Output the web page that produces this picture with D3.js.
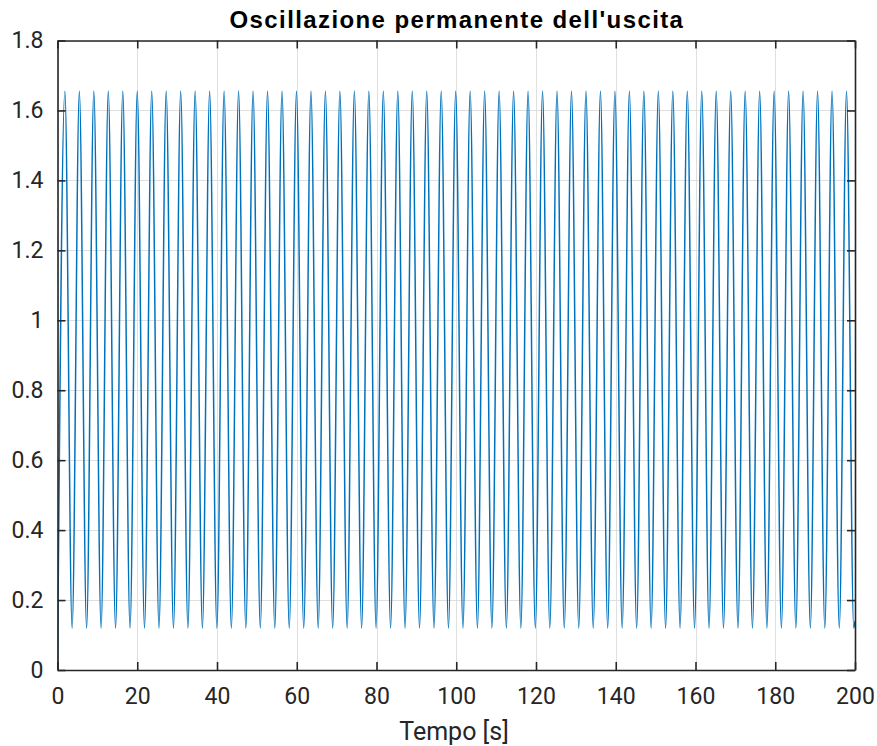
<!DOCTYPE html>
<html>
<head>
<meta charset="utf-8">
<script src="https://cdn.jsdelivr.net/npm/d3@7"></script>
<style>
  html, body { margin: 0; padding: 0; background: #fff; }
  svg { display: block; }
</style>
</head>
<body>
<svg id="chart" width="877" height="746"></svg>
<script>
// ---- data ----
const titleText = "Oscillazione permanente dell'uscita";
const xLabelText = "Tempo [s]";
const xTicks = [0, 20, 40, 60, 80, 100, 120, 140, 160, 180, 200];
const yTicks = [0, 0.2, 0.4, 0.6, 0.8, 1, 1.2, 1.4, 1.6, 1.8];
const startPoint = [0, 0];
const endPoint = [200, 0.14];
const peakValue = 1.655;
const troughValue = 0.12;
const peakTimes = [1.85, 5.48, 9.11, 12.74, 16.37, 20.00, 23.63, 27.26, 30.89, 34.52,
  38.15, 41.78, 45.41, 49.04, 52.67, 56.30, 59.93, 63.56, 67.19, 70.82,
  74.45, 78.08, 81.71, 85.34, 88.97, 92.60, 96.23, 99.86, 103.49, 107.12,
  110.75, 114.38, 118.01, 121.64, 125.27, 128.90, 132.53, 136.16, 139.79, 143.42,
  147.05, 150.68, 154.31, 157.94, 161.57, 165.20, 168.83, 172.46, 176.09, 179.72,
  183.35, 186.98, 190.61, 194.24, 197.87];
const troughTimes = [3.67, 7.30, 10.93, 14.56, 18.19, 21.82, 25.45, 29.08, 32.71, 36.34,
  39.97, 43.60, 47.23, 50.86, 54.49, 58.12, 61.75, 65.38, 69.01, 72.64,
  76.27, 79.90, 83.53, 87.16, 90.79, 94.42, 98.05, 101.68, 105.31, 108.94,
  112.57, 116.20, 119.83, 123.46, 127.09, 130.72, 134.35, 137.98, 141.61, 145.24,
  148.87, 152.50, 156.13, 159.76, 163.39, 167.02, 170.65, 174.28, 177.91, 181.54,
  185.17, 188.80, 192.43, 196.06, 199.69];

// ---- layout ----
const svg = d3.select("#chart");
const plotL = 57.5, plotR = 855, plotT = 40.5, plotB = 670;
const x = d3.scaleLinear().domain([0, 200]).range([plotL, plotR]);
const y = d3.scaleLinear().domain([0, 1.8]).range([plotB, plotT]);
const axisColor = "#262626";
const tickFont = "Roboto, 'Liberation Sans', Arial, sans-serif";

// grid
const grid = svg.append("g");
grid.selectAll("line.gx").data(xTicks).join("line")
  .attr("x1", d => Math.round(x(d)) + 0.5).attr("x2", d => Math.round(x(d)) + 0.5)
  .attr("y1", plotT).attr("y2", plotB)
  .attr("stroke", "#dfdfdf").attr("stroke-width", 1);
grid.selectAll("line.gy").data(yTicks).join("line")
  .attr("y1", d => Math.round(y(d)) + 0.5).attr("y2", d => Math.round(y(d)) + 0.5)
  .attr("x1", plotL).attr("x2", plotR)
  .attr("stroke", "#dfdfdf").attr("stroke-width", 1);

// series
const pts = [startPoint];
const merged = [];
peakTimes.forEach(t => merged.push([t, peakValue]));
troughTimes.forEach(t => merged.push([t, troughValue]));
merged.sort((a, b) => a[0] - b[0]);
merged.forEach(p => pts.push(p));
pts.push(endPoint);

svg.append("clipPath").attr("id", "clip")
  .append("rect").attr("x", plotL).attr("y", plotT).attr("width", plotR - plotL).attr("height", plotB - plotT);

svg.append("path")
  .datum(pts)
  .attr("clip-path", "url(#clip)")
  .attr("fill", "none")
  .attr("stroke", "#0072BD")
  .attr("stroke-width", 1.5)
  .attr("d", d3.line().x(d => x(d[0])).y(d => y(d[1])).curve(d3.curveMonotoneX));

// axes (MATLAB box style, ticks inward)
const xAxisB = d3.axisBottom(x).tickValues(xTicks).tickSizeInner(-8).tickSizeOuter(0).tickPadding(18).tickFormat(d3.format("d"));
const xAxisT = d3.axisTop(x).tickValues(xTicks).tickSizeInner(-8).tickSizeOuter(0).tickFormat("");
const yAxisL = d3.axisLeft(y).tickValues(yTicks).tickSizeInner(-8).tickSizeOuter(0).tickPadding(14).tickFormat(d => d3.format("~g")(d));
const yAxisR = d3.axisRight(y).tickValues(yTicks).tickSizeInner(-8).tickSizeOuter(0).tickFormat("");

function style(g) {
  g.selectAll(".domain").attr("stroke", axisColor).attr("stroke-width", 1.6);
  g.selectAll(".tick line").attr("stroke", axisColor).attr("stroke-width", 1.6);
  g.selectAll(".tick text").attr("fill", axisColor).style("font-family", tickFont).style("font-size", "23px");
}
svg.append("g").attr("transform", `translate(0,${plotB})`).call(xAxisB).call(style);
svg.append("g").attr("transform", `translate(0,${plotT})`).call(xAxisT).call(style);
svg.append("g").attr("transform", `translate(${plotL},0)`).call(yAxisL).call(style);
svg.append("g").attr("transform", `translate(${plotR},0)`).call(yAxisR).call(style);

// title and label
svg.append("text")
  .attr("x", (plotL + plotR) / 2 + 0.7).attr("y", 28)
  .attr("text-anchor", "middle")
  .style("font-family", "'Liberation Sans', Arial, sans-serif")
  .style("font-weight", "bold").style("font-size", "24px")
  .style("letter-spacing", "1.4px")
  .attr("fill", "#000")
  .text(titleText);

svg.append("text")
  .attr("x", 454).attr("y", 740)
  .attr("text-anchor", "middle")
  .style("font-family", tickFont)
  .style("font-size", "25px")
  .attr("fill", axisColor)
  .text(xLabelText);
</script>
</body>
</html>
